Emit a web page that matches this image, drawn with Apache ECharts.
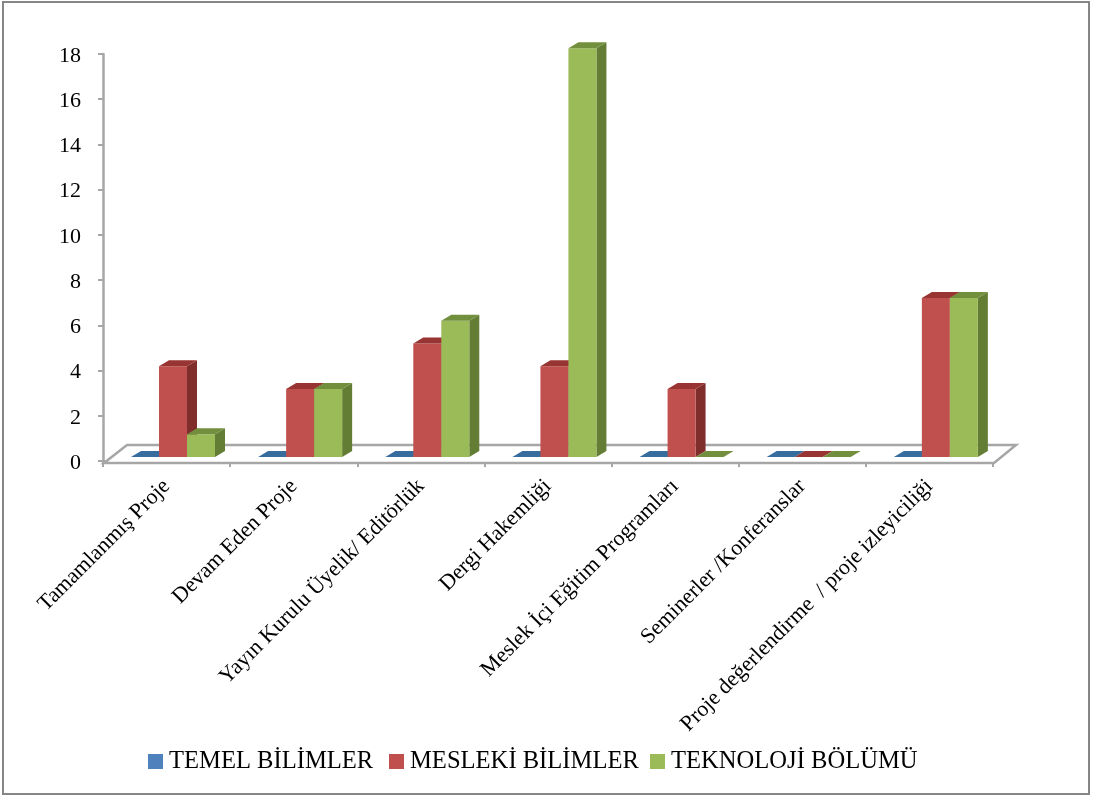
<!DOCTYPE html>
<html><head><meta charset="utf-8">
<style>html,body{margin:0;padding:0;background:#fff}#c{width:1093px;height:796px}</style>
<script src="https://cdn.jsdelivr.net/npm/echarts@6/dist/echarts.min.js"></script>
</head><body><div id="c"></div>
<script>
const categories = ['Tamamlanmış Proje','Devam Eden Proje','Yayın Kurulu Üyelik/ Editörlük','Dergi Hakemliği','Meslek İçi Eğitim Programları','Seminerler /Konferanslar','Proje değerlendirme  / proje izleyiciliği'];
const temel = [0,0,0,0,0,0,0];
const mesleki = [4,3,5,4,3,0,7];
const teknoloji = [1,3,6,18,0,0,7];
const names = ['TEMEL BİLİMLER','MESLEKİ BİLİMLER','TEKNOLOJİ BÖLÜMÜ'];
const legendLeft = [143, 384, 645];
const serif = '"Liberation Serif","DejaVu Serif",serif';
const DX = 10, DY = 6, LIFT = 4, BW = 28, LEAD = 28, SCALE = 1.004;

function bar3d(idx, front, top, side) {
  return function (params, api) {
    const c = api.value(0), v = api.value(1);
    const cw = api.size([1, 0])[0];
    const x0 = api.coord([c, 0])[0] - cw / 2 + LEAD + idx * BW;
    const y0 = api.coord([c, 0])[1] - LIFT;
    const h = (api.coord([c, 0])[1] - api.coord([c, v])[1]) * SCALE;
    const yt = y0 - h, x1 = x0 + BW;
    const children = [];
    if (v > 0) {
      children.push({ type: 'polygon', shape: { points: [[x1, y0], [x1 + DX, y0 - DY], [x1 + DX, yt - DY], [x1, yt]] }, style: { fill: side } });
      children.push({ type: 'rect', shape: { x: x0, y: yt, width: BW, height: h }, style: { fill: front } });
    }
    children.push({ type: 'polygon', shape: { points: [[x0, yt], [x1, yt], [x1 + DX, yt - DY], [x0 + DX, yt - DY]] }, style: { fill: top } });
    return { type: 'group', children };
  };
}
function floor(params, api) {
  const l = api.coord([0, 0]), cw = api.size([1, 0])[0];
  const xl = l[0] - cw / 2, xr = xl + cw * categories.length, yf = l[1] + 2, yb = l[1] - 16;
  return { type: 'polygon', shape: { points: [[xl + 1, yf], [xl + 24, yb], [xr + 23, yb], [xr + 1, yf]] },
    style: { fill: '#fff', stroke: '#a6a6a6', lineWidth: 2.5 } };
}
function mk(name, arr, idx, front, top, side) {
  return { name, type: 'custom', z: 3 + idx, clip: false, renderItem: bar3d(idx, front, top, side),
    itemStyle: { color: front }, encode: { x: 0, y: 1 }, data: arr.map((v, i) => [i, v]) };
}
const chart = echarts.init(document.getElementById('c'));
chart.setOption({
  animation: false, backgroundColor: '#fff',
  graphic: [{ type: 'rect', shape: { x: 3, y: 2, width: 1086, height: 792 }, style: { fill: 'none', stroke: '#868686', lineWidth: 2 }, z: 0 }],
  grid: { left: 103, top: 54, width: 890, height: 407 },
  legend: names.map((n, i) => ({ data: [n], left: legendLeft[i], top: 744, itemWidth: 15, itemHeight: 15, icon: 'rect', selectedMode: false,
    textStyle: { fontFamily: serif, fontSize: 24.6, color: '#000', padding: [0, 0, 0, 1] } })),
  xAxis: { type: 'category', data: categories, offset: 2, boundaryGap: true,
    axisLine: { lineStyle: { color: '#a6a6a6', width: 2.5 } },
    axisTick: { show: true, interval: 0, alignWithLabel: false, length: 6, lineStyle: { color: '#a6a6a6', width: 2 } },
    axisLabel: { interval: 0, rotate: 45, margin: 20, fontFamily: serif, fontSize: 22, color: '#000' } },
  yAxis: { type: 'value', min: 0, max: 18, interval: 2, splitLine: { show: false },
    axisLine: { show: true, lineStyle: { color: '#a6a6a6', width: 2.5 } },
    axisTick: { show: true, length: 5, lineStyle: { color: '#a6a6a6', width: 2 } },
    axisLabel: { margin: 22, formatter: '{a|{value}}', color: '#000',
      rich: { a: { fontFamily: serif, fontSize: 22, color: '#000', padding: [4, 0, 0, 0] } } } },
  series: [
    { name: 'zemin', type: 'custom', z: 1, clip: false, renderItem: floor, silent: true, data: [[0, 0]], encode: { x: 0, y: 1 } },
    mk(names[0], temel, 0, '#4f81bd', '#376c9f', '#2f5783'),
    mk(names[1], mesleki, 1, '#c0504d', '#983432', '#7f2e2c'),
    mk(names[2], teknoloji, 2, '#9bbb59', '#728f3d', '#647d35')
  ]
});
</script></body></html>
